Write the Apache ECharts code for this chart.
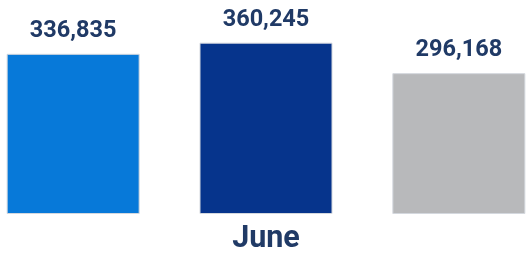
<!DOCTYPE html>
<html>
<head>
<meta charset="utf-8">
<script src="https://cdn.jsdelivr.net/npm/echarts@6/dist/echarts.min.js"></script>
<style>
  html, body { margin: 0; padding: 0; background: #fff; }
  #chart { width: 526px; height: 255px; }
</style>
</head>
<body>
<div id="chart"></div>
<script>
// chart data
var categories = ['June'];
var seriesA = [336835];
var seriesB = [360245];
var seriesC = [296168];

var labelColor = '#203a66';

function barSeries(name, data, color) {
  return {
    name: name,
    type: 'bar',
    data: data,
    barWidth: 133,
    barGap: '45%',
    itemStyle: { color: color, borderColor: '#d4d8de', borderWidth: 1 },
    label: {
      show: true,
      position: 'top',
      distance: 11,
      color: labelColor,
      fontFamily: 'Roboto',
      fontWeight: 'bold',
      fontSize: 23.5,
      formatter: function (p) { return p.value.toLocaleString('en-US'); }
    }
  };
}

var myChart = echarts.init(document.getElementById('chart'));
var option = {
  animation: false,
  grid: { left: 6, right: 0, top: 0, bottom: 40 },
  xAxis: {
    type: 'category',
    data: categories,
    axisLine: { show: false },
    axisTick: { show: false },
    axisLabel: {
      color: labelColor,
      fontFamily: 'Roboto',
      fontWeight: 'bold',
      fontSize: 30.5,
      margin: 10
    }
  },
  yAxis: {
    type: 'value',
    min: 0,
    max: 450000,
    show: false,
    splitLine: { show: false }
  },
  series: [
    barSeries('A', seriesA, '#0779d9'),
    barSeries('B', seriesB, '#06348c'),
    barSeries('C', seriesC, '#b8b9bb')
  ]
};
option && myChart.setOption(option);
</script>
</body>
</html>
